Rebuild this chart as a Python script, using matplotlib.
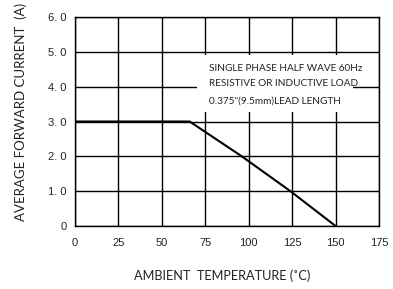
import numpy as np
import matplotlib.pyplot as plt
from matplotlib.patches import Rectangle

# 読み取ったデータ
temp = [0, 66, 96, 124, 150]
current = [3.0, 3.0, 2.0, 1.0, 0.0]
xticks = [0, 25, 50, 75, 100, 125, 150, 175]
yticks = [0, 1, 2, 3, 4, 5, 6]
ytick_labels = ["0", "1. 0", "2. 0", "3. 0", "4. 0", "5. 0", "6. 0"]
note_lines = ["SINGLE PHASE HALF WAVE 60Hz",
              "RESISTIVE OR INDUCTIVE LOAD",
              "0.375\"(9.5mm)LEAD LENGTH"]

fig = plt.figure(figsize=(3.93, 2.89), dpi=100)
ax = fig.add_axes([75 / 393, 63 / 289, 304 / 393, 209 / 289])

ax.plot(temp, current, color="black", linewidth=1.5, zorder=3)

ax.set_xlim(0, 175)
ax.set_ylim(0, 6)
ax.set_xticks(xticks)
ax.set_yticks(yticks)
ax.set_yticklabels(ytick_labels)
ax.tick_params(length=0, labelsize=8, colors="#222222")
ax.tick_params(axis="x", pad=9)
ax.tick_params(axis="y", pad=6)
for lab in ax.get_xticklabels() + ax.get_yticklabels():
    lab.set_family("Liberation Sans")

ax.set_axisbelow(True)
ax.grid(True, color="black", linewidth=1.0)
for s in ax.spines.values():
    s.set_color("black")
    s.set_linewidth(1.0)

# 注記の白い箱
ax.add_patch(Rectangle((70.2, 3.27), 89.8, 1.64, facecolor="white",
                       edgecolor="none", zorder=1.5))
for txt, yy in zip(note_lines, [4.51, 4.08, 3.59]):
    ax.text(77.1, yy, txt, fontsize=7.2, family="Lato", va="center",
            ha="left", color="#222222", zorder=4)

fig.text(222 / 393, 1 - 276 / 289, "AMBIENT  TEMPERATURE (\u02daC)",
         ha="center", va="center", fontsize=9.2, family="Lato", color="#222222")
fig.text(21 / 393, 1 - 112 / 289, "AVERAGE FORWARD CURRENT  (A)",
         ha="center", va="center", rotation=90, fontsize=9.5, family="Lato",
         color="#222222")

plt.savefig("out.png", dpi=100)
